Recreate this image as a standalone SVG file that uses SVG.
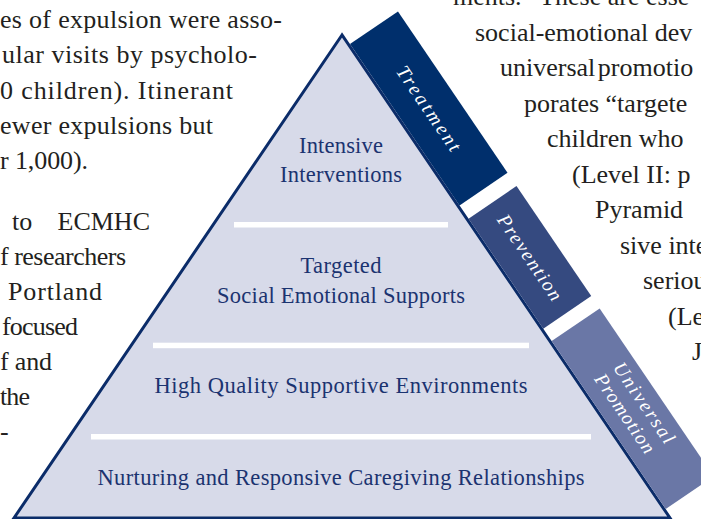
<svg xmlns="http://www.w3.org/2000/svg" width="701" height="519" viewBox="0 0 701 519">
<style>
.body{font-family:"Liberation Serif","Times New Roman",serif;font-size:26px;fill:#231f20}
.lvl{font-family:"Liberation Serif","Times New Roman",serif;font-size:22.5px;fill:#1b3370;text-anchor:middle}
.band{font-family:"Liberation Serif","Times New Roman",serif;font-style:italic;font-size:19.5px;fill:#ffffff;text-anchor:middle}
.div{fill:#ffffff}
</style>
<rect width="701" height="519" fill="#ffffff"/>
<g id="text-left" class="body">
<text x="0" y="28" textLength="282">es of expulsion were asso-</text>
<text x="2" y="63" textLength="255">ular visits by psycholo-</text>
<text x="0" y="99" textLength="233">0 children). Itinerant</text>
<text x="0" y="134" textLength="213">ewer expulsions but</text>
<text x="0" y="169" textLength="88">r 1,000).</text>
<text x="12" y="230">to</text>
<text x="150" y="230" text-anchor="end">ECMHC</text>
<text x="0" y="265" textLength="126">f researchers</text>
<text x="8" y="300" textLength="94">Portland</text>
<text x="2" y="335" textLength="76">focused</text>
<text x="0" y="370" textLength="52">f and</text>
<text x="0" y="405" textLength="30">the</text>
<text x="0" y="440">-</text>
</g>
<g id="text-right" class="body">
<text x="453" y="5">ments.” These are esse</text>
<text x="475" y="40.5">social-emotional dev</text>
<text x="500" y="76" word-spacing="-4">universal promotio</text>
<text x="524" y="111.5">porates “targete</text>
<text x="547" y="147">children who</text>
<text x="572" y="182.5">(Level II: p</text>
<text x="595" y="218">Pyramid</text>
<text x="620" y="253.5">sive inte</text>
<text x="643" y="289">seriou</text>
<text x="668" y="324.5">(Le</text>
<text x="692" y="360">J</text>
</g>
<g id="pyramid">
<polygon points="342,35 14,518 670,518" fill="#d7dae9" stroke="#0b2c69" stroke-width="3"/>
</g>
<g id="connectors">
<rect class="div" x="234" y="222" width="214" height="5.5"/>
<rect class="div" x="153" y="342.7" width="376" height="5.5"/>
<rect class="div" x="91" y="434" width="500" height="5.5"/>
</g>
<g id="level-intensive">
<text class="lvl" x="341" y="153" textLength="84">Intensive</text>
<text class="lvl" x="341" y="182" textLength="122">Interventions</text>
</g>
<g id="level-targeted">
<text class="lvl" x="341" y="273" textLength="81">Targeted</text>
<text class="lvl" x="341" y="303" textLength="248">Social Emotional Supports</text>
</g>
<g id="level-environments">
<text class="lvl" x="341" y="393" textLength="373">High Quality Supportive Environments</text>
</g>
<g id="level-relationships">
<text class="lvl" x="341" y="485" textLength="487">Nurturing and Responsive Caregiving Relationships</text>
</g>
<g id="band-treatment" transform="translate(342,35) rotate(55.82)">
<rect x="12" y="-59.5" width="195" height="58" fill="#002f6c"/>
<text class="band" x="109.5" y="-24" textLength="99">Treatment</text>
</g>
<g id="band-prevention" transform="translate(342,35) rotate(55.82)">
<rect x="223" y="-59.5" width="133" height="58" fill="#354a80"/>
<text class="band" x="289.5" y="-24" textLength="100">Prevention</text>
</g>
<g id="band-universal" transform="translate(342,35) rotate(55.82)">
<rect x="371" y="-59.5" width="203" height="58" fill="#6a77a6"/>
<text class="band" x="474" y="-37" textLength="94">Universal</text>
<text class="band" x="472" y="-15" textLength="92">Promotion</text>
</g>
</svg>
